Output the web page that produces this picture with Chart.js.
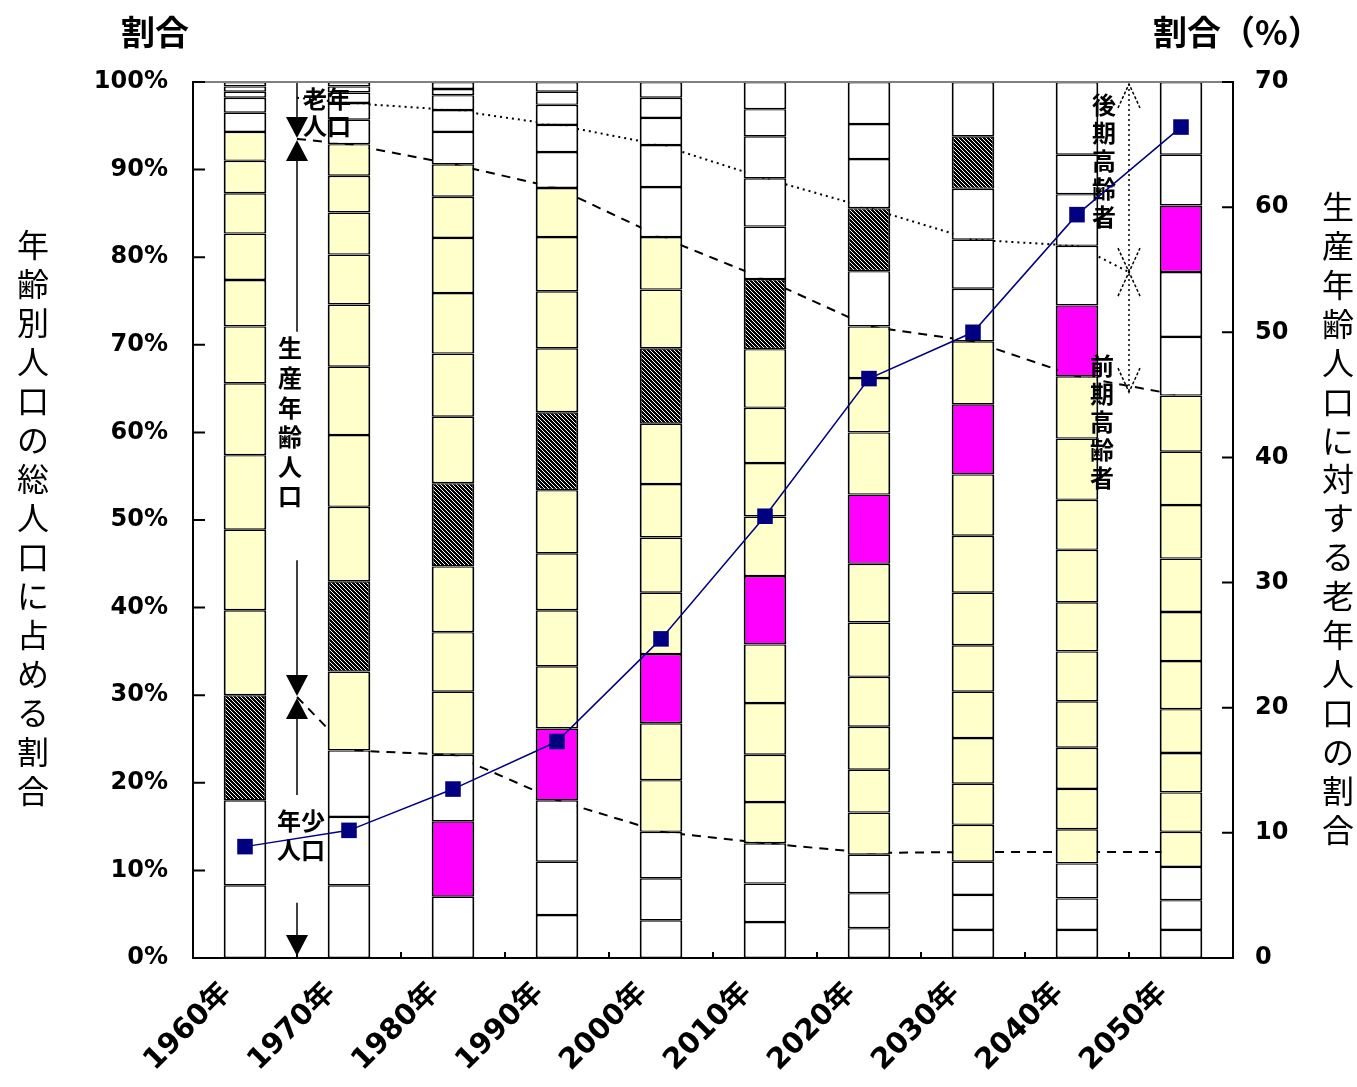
<!DOCTYPE html>
<html lang="ja">
<head>
<meta charset="utf-8">
<title>年齢別人口の推移</title>
<script src="https://cdn.jsdelivr.net/npm/chart.js@4.4.0/dist/chart.umd.min.js"></script>
<style>
  html, body { margin: 0; padding: 0; background: #fff; }
</style>
</head>
<body>
<canvas id="chart" width="1357" height="1087"></canvas>
<script>
const years = ["1960年", "1970年", "1980年", "1990年", "2000年", "2010年", "2020年", "2030年", "2040年", "2050年"];
const ageGroups = ["0～4歳", "5～9歳", "10～14歳", "15～19歳", "20～24歳", "25～29歳", "30～34歳", "35～39歳", "40～44歳",
  "45～49歳", "50～54歳", "55～59歳", "60～64歳", "65～69歳", "70～74歳", "75～79歳", "80～84歳", "85歳以上"];

// 5歳階級別の構成比 (%)
const seg1960 = [8.3, 9.7, 12.0, 9.7, 9.2, 8.5, 8.2, 6.5, 5.3, 5.3, 4.6, 3.7, 3.3, 2.2, 1.7, 0.7, 0.6, 0.5];
const seg1970 = [8.3, 7.8, 7.6, 9.0, 10.3, 8.5, 8.2, 7.8, 7.1, 5.7, 4.8, 4.2, 3.6, 2.8, 1.9, 1.2, 0.7, 0.5];
const seg1980 = [7.0, 8.6, 7.6, 7.2, 6.8, 7.5, 9.5, 7.6, 7.2, 6.9, 6.3, 4.7, 3.7, 3.7, 2.5, 1.7, 0.7, 0.8];
const seg1990 = [4.9, 6.1, 7.0, 8.2, 7.1, 6.4, 6.5, 7.2, 8.9, 7.3, 6.5, 6.2, 5.6, 4.1, 3.1, 2.3, 1.5, 1.1];
const seg2000 = [4.3, 4.8, 5.3, 5.9, 6.5, 7.9, 7.0, 6.3, 6.1, 6.9, 8.6, 6.7, 6.0, 5.7, 4.8, 3.1, 2.3, 1.8];
const seg2010 = [4.1, 4.4, 4.6, 4.7, 5.4, 5.9, 6.7, 7.8, 6.8, 6.1, 6.3, 6.7, 8.0, 6.0, 5.5, 4.8, 3.1, 3.1];
const seg2020 = [3.4, 4.0, 4.4, 4.8, 4.9, 4.9, 5.7, 6.2, 6.7, 7.9, 7.1, 6.2, 5.9, 6.3, 7.2, 5.6, 4.0, 4.8];
const seg2030 = [3.2, 4.0, 3.8, 4.2, 4.7, 5.2, 5.3, 5.3, 6.0, 6.5, 7.0, 8.0, 7.2, 6.0, 5.6, 5.8, 6.0, 6.2];
const seg2040 = [3.2, 3.6, 4.0, 3.9, 4.6, 4.7, 5.3, 5.7, 5.6, 6.0, 5.7, 7.0, 7.1, 8.1, 6.8, 5.9, 4.5, 8.3];
const seg2050 = [3.2, 3.4, 3.8, 4.0, 4.5, 4.5, 5.0, 5.5, 5.6, 6.1, 6.1, 6.1, 6.4, 6.7, 7.4, 7.6, 5.8, 8.3];

// 団塊の世代 / 団塊ジュニアの階級 (-1 = なし)
const boomerIdx = [2, 4, 6, 8, 10, 12, 14, 16, -1, -1];
const juniorIdx = [-1, -1, 1, 3, 5, 7, 9, 11, 13, 15];

// 生産年齢人口に対する老年人口の割合 (%)
const oldAgeRatio = [8.9, 10.2, 13.5, 17.3, 25.5, 35.3, 46.3, 50.0, 59.4, 66.4];

// 区分線 (%)
const guideSlots = [0.5, 1, 2, 3, 4, 5, 6, 7, 8, 9];
const elderlyGuide = [93.5, 92.9, 90.6, 87.9, 82.3, 77.5, 72.1, 70.4, 66.4, 64.2];
const youthGuide = [29.8, 23.7, 23.2, 18.0, 14.4, 13.1, 12.0, 12.1, 12.1, 12.1];
const lateSlots = [0.5, 1, 2, 3, 4, 5, 6, 7, 8, 8.5];
const lateGuide = [98.2, 97.6, 96.8, 95.1, 92.8, 89.0, 85.6, 82.0, 81.3, 78.3];

const yTicks = [0, 10, 20, 30, 40, 50, 60, 70, 80, 90, 100];
const y2Ticks = [0, 10, 20, 30, 40, 50, 60, 70];

const allSegs = [seg1960, seg1970, seg1980, seg1990, seg2000, seg2010, seg2020, seg2030, seg2040, seg2050];

const canvas = document.getElementById("chart");
const ctx = canvas.getContext("2d");

// 斜線パターン
const makeHatch = () => {
  const n = 4;
  const c = document.createElement("canvas");
  c.width = n; c.height = n;
  const g = c.getContext("2d");
  g.fillStyle = "#000";
  g.fillRect(0, 0, n, n);
  g.fillStyle = "#fff";
  for (let i = 0; i < n; i++) g.fillRect(i, i, 1, 1);
  return ctx.createPattern(c, "repeat");
};
const hatch = makeHatch();

const segColor = (i, k) => {
  if (k === boomerIdx[i]) return hatch;
  if (k === juniorIdx[i]) return "#FF00FF";
  return k >= 3 && k <= 12 ? "#FFFFCC" : "#FFFFFF";
};

const JP = "'Noto Sans CJK JP', sans-serif";
const tickFont = { family: "'DejaVu Sans', 'Noto Sans CJK JP', sans-serif", size: 24, weight: "bold" };
const xTickFont = { family: "'DejaVu Sans', 'Noto Sans CJK JP', sans-serif", size: 29, weight: "bold" };

const barSets = ageGroups.map((name, k) => ({
  type: "bar",
  label: name,
  data: allSegs.map((s) => s[k]),
  backgroundColor: allSegs.map((_, i) => segColor(i, k)),
  borderColor: "#000",
  borderWidth: { top: 1.4, bottom: 1.4, left: 2, right: 2 },
  borderSkipped: false,
  barPercentage: 0.41,
  categoryPercentage: 1.0,
  yAxisID: "y",
  order: 1,
}));

const lineSet = {
  type: "line",
  label: "生産年齢人口に対する老年人口の割合",
  data: oldAgeRatio,
  yAxisID: "y2",
  borderColor: "#000080",
  backgroundColor: "#000080",
  borderWidth: 1.5,
  pointStyle: "rect",
  pointRadius: 11,
  pointBorderWidth: 0,
  tension: 0,
  order: 0,
};

const vText = (c, str, x, y0, step) => {
  c.textAlign = "center";
  c.textBaseline = "middle";
  [...str].forEach((ch, i) => c.fillText(ch, x, y0 + i * step));
};

const tri = (c, x, tip, dir) => {
  // dir 1: 下向き, -1: 上向き
  c.beginPath();
  c.moveTo(x, tip);
  c.lineTo(x - 11, tip - dir * 21);
  c.lineTo(x + 11, tip - dir * 21);
  c.closePath();
  c.fill();
};

const vline = (c, x, a, b) => {
  c.beginPath();
  c.moveTo(x, a);
  c.lineTo(x, b);
  c.stroke();
};

const chevron = (c, x, apex, dir) => {
  // dir 1: 上向き(^), -1: 下向き(v)
  c.beginPath();
  c.moveTo(x - 11, apex + dir * 24);
  c.lineTo(x, apex);
  c.lineTo(x + 11, apex + dir * 24);
  c.stroke();
};

const guidePlugin = {
  id: "guides",
  beforeDatasetsDraw(chart) {
    const { ctx: c, chartArea: a } = chart;
    const xs = chart.scales.x, ys = chart.scales.y;
    const poly = (slots, vals, dash, w) => {
      c.setLineDash(dash);
      c.lineWidth = w;
      c.beginPath();
      slots.forEach((s, i) => {
        const px = xs.getPixelForValue(s), py = ys.getPixelForValue(vals[i]);
        if (i === 0) c.moveTo(px, py); else c.lineTo(px, py);
      });
      c.stroke();
    };
    c.save();
    c.beginPath();
    c.rect(a.left, a.top, a.width, a.height);
    c.clip();
    c.strokeStyle = "#000";
    poly(guideSlots, elderlyGuide, [9, 7], 2);
    poly(guideSlots, youthGuide, [9, 7], 2);
    poly(lateSlots, lateGuide, [2, 4], 2);
    c.restore();
  },
  beforeDatasetDraw(chart, args) {
    if (args.meta.type !== "line") return;
    const c = chart.ctx;
    const xs = chart.scales.x, ys = chart.scales.y;
    const Y = (v) => ys.getPixelForValue(v);
    c.save();
    c.fillStyle = "#000";
    c.strokeStyle = "#000";
    c.lineWidth = 1.5;
    c.font = "bold 24px " + JP;

    // 左側: 老年人口 / 生産年齢人口 / 年少人口
    const ax = Math.round(xs.getPixelForValue(0.5));
    const m1 = Y(93.5), m2 = Y(29.8), y0 = Y(0);
    vline(c, ax, Y(100), m1 - 18);
    tri(c, ax, m1 - 1, 1);
    tri(c, ax, m1 + 1, -1);
    vline(c, ax, m1 + 20, Y(71.5));
    vText(c, "生産年齢人口", ax - 7, Y(69.6), 29.6);
    vline(c, ax, Y(45.4), m2 - 20);
    tri(c, ax, m2 - 1, 1);
    tri(c, ax, m2 + 1, -1);
    vline(c, ax, m2 + 20, Y(18.6));
    c.textAlign = "center";
    c.fillText("年少", ax + 4, Y(15.6));
    c.fillText("人口", ax + 4, Y(12.3));
    vline(c, ax, Y(6.3), y0 - 20);
    tri(c, ax, y0 - 2, 1);
    c.fillText("老年", ax + 30, Y(98.1));
    c.fillText("人口", ax + 30, Y(95.0));

    // 右側: 後期高齢者 / 前期高齢者
    const bx = Math.round(xs.getPixelForValue(8.5));
    const top = Y(100) + 2, mid = Y(78.3), bot = Y(64.6);
    c.setLineDash([3, 2]);
    chevron(c, bx, top, 1);
    chevron(c, bx, mid, -1);
    chevron(c, bx, mid, 1);
    chevron(c, bx, bot, -1);
    c.setLineDash([2, 3]);
    vline(c, bx, top, bot);
    c.setLineDash([]);
    vText(c, "後期高齢者", bx - 25, Y(97.4), 28);
    vText(c, "前期高齢者", bx - 27, Y(67.6), 28);
    c.restore();
  },
  afterDraw(chart) {
    const { ctx: c, chartArea: a } = chart;
    const xs = chart.scales.x, ys = chart.scales.y, y2 = chart.scales.y2;
    c.save();
    // 上枠
    c.strokeStyle = "#808080";
    c.lineWidth = 2;
    c.beginPath();
    c.moveTo(a.left, a.top);
    c.lineTo(a.right, a.top);
    c.stroke();
    // 内向き目盛
    c.strokeStyle = "#000";
    c.beginPath();
    yTicks.forEach((v) => {
      const py = ys.getPixelForValue(v);
      c.moveTo(a.left, py); c.lineTo(a.left + 12, py);
    });
    y2Ticks.forEach((v) => {
      const py = y2.getPixelForValue(v);
      c.moveTo(a.right - 11, py); c.lineTo(a.right, py);
    });
    for (let i = 0; i < years.length - 1; i++) {
      const px = xs.getPixelForValue(i + 0.5);
      c.moveTo(px, a.bottom); c.lineTo(px, a.bottom - 6);
    }
    c.stroke();

    // 軸タイトル
    c.fillStyle = "#000";
    c.font = "bold 34px " + JP;
    c.textAlign = "center";
    c.textBaseline = "middle";
    c.fillText("割合", 155, 32);
    c.textAlign = "left";
    c.fillText("割合（%）", 1153, 32);
    c.font = "32px " + JP;
    vText(c, "年齢別人口の総人口に占める割合", 33, 245, 39);
    vText(c, "生産年齢人口に対する老年人口の割合", 1338, 207, 38.9);
    c.restore();
  },
};

new Chart(ctx, {
  data: { labels: years, datasets: [...barSets, lineSet] },
  options: {
    responsive: false,
    animation: false,
    layout: { padding: { top: 82 } },
    plugins: { legend: { display: false }, tooltip: { enabled: false } },
    scales: {
      x: {
        stacked: true,
        grid: { display: false, drawTicks: false },
        border: { display: true, color: "#000", width: 2 },
        ticks: { font: xTickFont, color: "#000", minRotation: 45, maxRotation: 45, autoSkip: false, padding: 18, labelOffset: -18 },
        afterFit: (s) => { s.height = 129; },
      },
      y: {
        stacked: true,
        position: "left",
        min: 0,
        max: 100,
        grid: { display: false, drawTicks: false },
        border: { display: true, color: "#000", width: 2 },
        ticks: { stepSize: 10, font: tickFont, color: "#000", padding: 25, callback: (v) => v + "%" },
        afterFit: (s) => { s.width = 193; },
      },
      y2: {
        position: "right",
        min: 0,
        max: 70,
        grid: { display: false, drawTicks: false },
        border: { display: true, color: "#000", width: 2 },
        ticks: { stepSize: 10, font: tickFont, color: "#000", padding: 22 },
        afterFit: (s) => { s.width = 124; },
      },
    },
  },
  plugins: [guidePlugin],
});
</script>
</body>
</html>
